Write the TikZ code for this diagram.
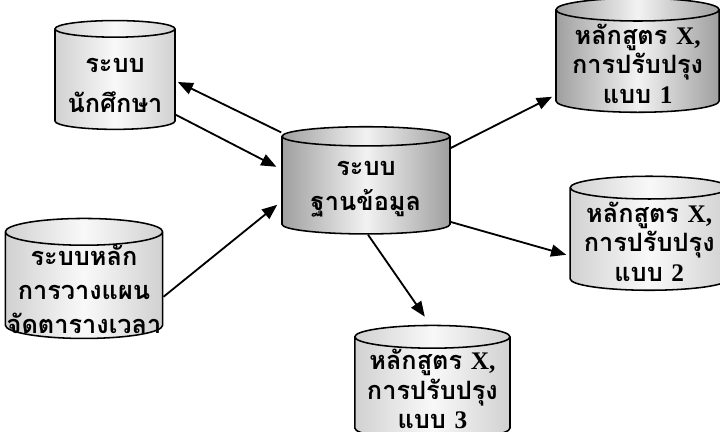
\documentclass[tikz,border=0pt]{standalone}
\usepackage{fontspec}
\newfontfamily\thaifont[Script=Thai]{Loma}
\newfontfamily\latinfont{Liberation Serif}
\usepackage{tikz}
\usetikzlibrary{shapes.geometric}
\usetikzlibrary{arrows.meta}
\usetikzlibrary{calc}
\newcommand{\lowline}[2]{\raisebox{-#1}[\height][\depth]{#2}}
\newcommand{\flatline}[2]{\raisebox{-#1}[0pt][0pt]{#2}}

\begin{document}
\begin{tikzpicture}[
	drum/.style={cylinder, shape border rotate=90, aspect=0.17, draw, line width=1.1pt,
		left color=gray!36, right color=gray!36, middle color=gray!5,
		inner sep=1pt, align=center, font=\thaifont\bfseries\fontsize{18}{21}\selectfont},
	darkdrum/.style={drum, left color=gray!75, right color=gray!75, middle color=gray!10},
	link/.style={line width=1.3pt, -{Triangle[length=0.38cm, width=0.3cm]}}]
	
	\useasboundingbox (0,0) rectangle (18,10.8);
	
	\node [drum, minimum width=3cm, minimum height=2.72cm] (stud) at (2.875,8.79)
		{\lowline{3.5pt}{ระบบ}\\[7pt]\lowline{3.5pt}{นักศึกษา}};
	\node [drum, minimum width=3.9cm, minimum height=3.0cm] (plan) at (2.1,3.63)
		{\flatline{9pt}{ระบบหลัก}\\[3pt]\flatline{9pt}{การวางแผน}\\[3pt]\flatline{9pt}{จัดตารางเวลา}};
	\node [darkdrum, minimum width=4.2cm, minimum height=2.68cm] (db) at (9.15,6.14)
		{\lowline{2pt}{ระบบ}\\[3.5pt]\lowline{2pt}{ฐานข้อมูล}};
	
	\node [darkdrum, minimum width=4.08cm, minimum height=2.85cm] (ver1) at (15.94,9.24)
		{\flatline{8pt}{หลักสูตร {\latinfont X,}}\\\flatline{8pt}{การปรับปรุง}\\\flatline{8pt}{แบบ {\latinfont 1}}};
	\node [drum, minimum width=3.95cm, minimum height=2.85cm] (ver2) at (16.23,4.79)
		{\flatline{8pt}{หลักสูตร {\latinfont X,}}\\\flatline{8pt}{การปรับปรุง}\\\flatline{8pt}{แบบ {\latinfont 2}}};
	\node [drum, minimum width=3.88cm, minimum height=2.85cm] (ver3) at (10.81,1.06)
		{\flatline{7pt}{หลักสูตร {\latinfont X,}}\\\flatline{7pt}{การปรับปรุง}\\\flatline{7pt}{แบบ {\latinfont 3}}};
	
	% links
	\draw [link] ([yshift=1.35cm]db.west) -- ([xshift=0.05cm,yshift=-0.04cm]stud.east);
	\draw [link] ([yshift=-0.86cm]stud.east) -- ([xshift=-0.12cm,yshift=0.49cm]db.west);
	\draw [link] ([yshift=-0.25cm]plan.east) -- ([xshift=-0.1cm,yshift=-0.46cm]db.west);
	\draw [link] ([yshift=0.96cm]db.east) -- ([xshift=-0.08cm,yshift=-0.86cm]ver1.west);
	\draw [link] ([yshift=-0.89cm]db.east) -- ([xshift=-0.08cm,yshift=-0.36cm]ver2.west);
	\draw [link] ([xshift=0.05cm]db.south) -- ([xshift=-0.19cm,yshift=0.2cm]ver3.north);
\end{tikzpicture}
\end{document}
